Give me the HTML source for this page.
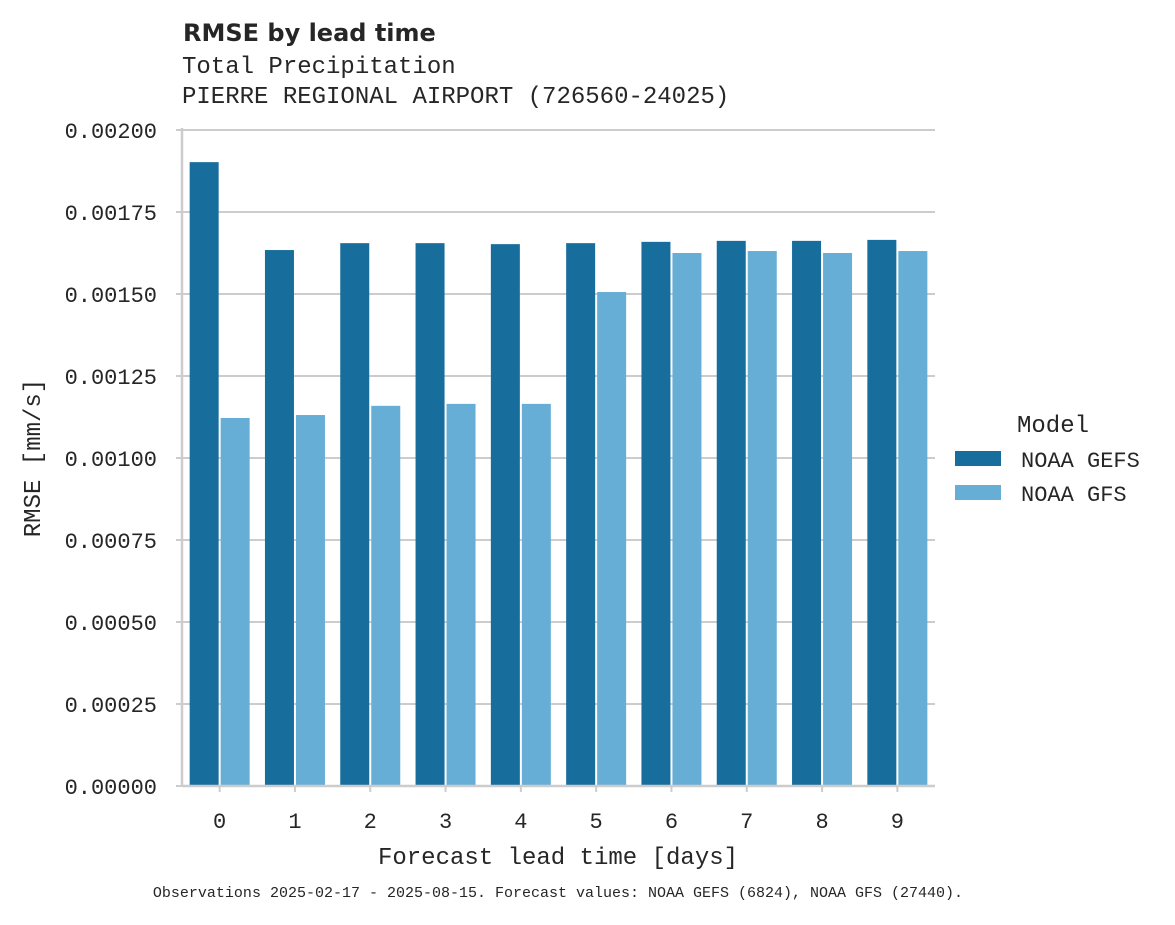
<!DOCTYPE html>
<html><head><meta charset="utf-8"><style>
body{margin:0;background:#fff;}
svg text{fill:#262626;}
.m{font-family:"Liberation Mono","DejaVu Sans Mono",monospace;}
</style></head><body>
<svg width="1175" height="920" xmlns="http://www.w3.org/2000/svg">
<text x="183" y="41" font-family="DejaVu Sans, Liberation Sans, sans-serif" font-weight="bold" font-size="24">RMSE by lead time</text>
<text class="m" x="182" y="73" font-size="24">Total Precipitation</text>
<text class="m" x="182" y="103" font-size="24">PIERRE REGIONAL AIRPORT (726560-24025)</text>
<g id="grid"></g>
<g id="bars"></g>
<g id="axes"></g>
<text class="m" font-size="24" transform="translate(40,458) rotate(-90)" text-anchor="middle">RMSE [mm/s]</text>
<text class="m" font-size="24" x="558" y="864" text-anchor="middle">Forecast lead time [days]</text>
<g>
<text class="m" font-size="24" x="1053" y="432" text-anchor="middle">Model</text>
<rect x="955" y="451" width="46" height="15" fill="#176d9c"/>
<text class="m" font-size="22" x="1021" y="467">NOAA GEFS</text>
<rect x="955" y="485" width="46" height="15" fill="#67aed6"/>
<text class="m" font-size="22" x="1021" y="501">NOAA GFS</text>
</g>
<text class="m" font-size="15" x="558" y="897" text-anchor="middle">Observations 2025-02-17 - 2025-08-15. Forecast values: NOAA GEFS (6824), NOAA GFS (27440).</text>
</svg>
<script>
const categories=["0","1","2","3","4","5","6","7","8","9"];
const gefs=[0.001902,0.001634,0.001655,0.001655,0.001652,0.001655,0.001659,0.001662,0.001662,0.001665];
const gfs=[0.001122,0.001131,0.001159,0.001165,0.001165,0.001506,0.001625,0.001631,0.001625,0.001631];
const yTicks=[0,0.00025,0.0005,0.00075,0.001,0.00125,0.0015,0.00175,0.002];
const yTickLabels=["0.00000","0.00025","0.00050","0.00075","0.00100","0.00125","0.00150","0.00175","0.00200"];
const NS="http://www.w3.org/2000/svg";
const L=182,R=935,T=130,B=786,ymax=0.002;
const y=v=>B-(v/ymax)*(B-T);
const band=(R-L)/categories.length;
const xc=i=>L+band*(i+0.5);
function mk(t,a,p){const e=document.createElementNS(NS,t);for(const k in a)e.setAttribute(k,a[k]);p.appendChild(e);return e;}
const grid=document.getElementById('grid'),bars=document.getElementById('bars'),axes=document.getElementById('axes');
yTicks.forEach((v,i)=>{
 const g=mk('line',{x1:L,x2:R,y1:y(v),y2:y(v),stroke:'#cccccc','stroke-width':2},grid);
 
 
 const tk=mk('line',{x1:L-6,x2:L,y1:y(v),y2:y(v),stroke:'#cccccc','stroke-width':2},axes);
 
 
 const t=mk('text',{x:L-25,y:y(v)+8,'text-anchor':'end','font-size':22,class:'m'},axes);
 t.textContent=yTickLabels[i];
 
 
});
const bw=29;
categories.forEach((c,i)=>{
 const a=mk('rect',{x:xc(i)-bw-1,y:y(gefs[i]),width:bw,height:B-y(gefs[i]),fill:'#176d9c'},bars);
 
 
 const b=mk('rect',{x:xc(i)+1,y:y(gfs[i]),width:bw,height:B-y(gfs[i]),fill:'#67aed6'},bars);
 
 
 const tk=mk('line',{x1:xc(i),x2:xc(i),y1:B,y2:B+6,stroke:'#cccccc','stroke-width':2},axes);
 
 
 const t=mk('text',{x:xc(i),y:B+42,'text-anchor':'middle','font-size':22,class:'m'},axes);
 t.textContent=c;
 
 
});
const ax=mk('line',{x1:L,x2:L,y1:T-2,y2:B+1,stroke:'#cccccc','stroke-width':2.5},axes);


const bx=mk('line',{x1:L,x2:R,y1:B,y2:B,stroke:'#cccccc','stroke-width':2.5},axes);


</script>
</body></html>
